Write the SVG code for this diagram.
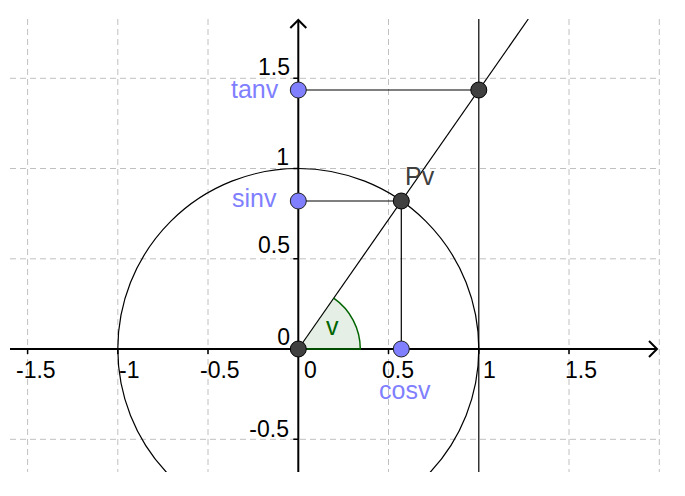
<svg xmlns="http://www.w3.org/2000/svg" width="685" height="496" viewBox="0 0 685 496">
<defs>
<style>
.grid{stroke:#c0c0c0;stroke-width:1;stroke-dasharray:6 4;fill:none}
.axis{stroke:#000;stroke-width:2;fill:none}
.tick{stroke:#000;stroke-width:1.5}
.thin{stroke:#000;stroke-width:1.2;fill:none}
.num{font-family:"Liberation Sans",Arial,sans-serif;font-size:23px;fill:#000}
.lbl{font-family:"Liberation Sans",Arial,sans-serif;font-size:25px}
.blue{fill:#7f7fff;stroke:#222;stroke-width:1}
.dark{fill:#404040;stroke:#000;stroke-width:1}
</style>
<clipPath id="plot"><rect x="10" y="19" width="650" height="453"/></clipPath>
</defs>
<rect width="685" height="496" fill="#fff"/>
<g id="grid">
<path class="grid" d="M27.6,19V472M117.8,19V472M208,19V472M388.5,19V472M569,19V472M659.3,19V472M10,78.3H660M10,168.5H660M10,258.8H660M10,439.3H660"/>
</g>
<g id="axes">
<path class="axis" d="M10,349H657M298.3,472V20"/>
<path class="axis" d="M649,341L657,349L649,357M290.3,28L298.3,20L306.3,28"/>
<path class="tick" d="M27.6,349v5M117.8,349v5M208,349v5M388.5,349v5M478.8,349v5M569,349v5M298.3,78.3h-5M298.3,168.5h-5M298.3,258.8h-5M298.3,439.3h-5"/>
</g>
<g id="axis-labels">
<text class="num" x="16" y="378">-1.5</text>
<text class="num" x="119" y="378">-1</text>
<text class="num" x="200" y="378">-0.5</text>
<text class="num" x="304" y="378">0</text>
<text class="num" x="382" y="378">0.5</text>
<text class="num" x="483" y="378">1</text>
<text class="num" x="565" y="378">1.5</text>
<text class="num" x="290" y="75" text-anchor="end">1.5</text>
<text class="num" x="289" y="165" text-anchor="end">1</text>
<text class="num" x="290" y="253" text-anchor="end">0.5</text>
<text class="num" x="290" y="345" text-anchor="end">0</text>
<text class="num" x="289" y="437" text-anchor="end">-0.5</text>
</g>
<g id="connectors" clip-path="url(#plot)">
<circle class="thin" cx="298.3" cy="349" r="180.5"/>
<path class="thin" d="M478.8,19V472"/>
<path class="thin" d="M298.3,349L528.3,19"/>
<path class="thin" d="M298.3,90H478.8M298.3,201H401.3M401.3,201V349"/>
</g>
<g id="angle-v">
<path d="M298.3,349H360.3A62,62 0 0 0 333.7,298.1Z" fill="#006400" fill-opacity="0.1" stroke="none"/>
<path d="M298.3,349H360.3A62,62 0 0 0 333.7,298.1" fill="none" stroke="#006400" stroke-width="1.5"/>
<text class="lbl" x="326" y="335" fill="#006400" font-size="23">v</text>
</g>
<g id="point-O"><circle class="dark" cx="298.3" cy="349" r="8"/></g>
<g id="point-Pv"><circle class="dark" cx="401.3" cy="201" r="8"/><text class="lbl" x="405" y="185" fill="#404040">Pv</text></g>
<g id="point-T"><circle class="dark" cx="478.8" cy="90" r="8"/></g>
<g id="point-tanv"><circle class="blue" cx="298.3" cy="90" r="8"/><text class="lbl" x="231" y="97.5" fill="#7f7fff">tanv</text></g>
<g id="point-sinv"><circle class="blue" cx="298.3" cy="201" r="8"/><text class="lbl" x="232" y="207" fill="#7f7fff">sinv</text></g>
<g id="point-cosv"><circle class="blue" cx="401.3" cy="349" r="8"/><text class="lbl" x="379" y="399" fill="#7f7fff">cosv</text></g>
</svg>
